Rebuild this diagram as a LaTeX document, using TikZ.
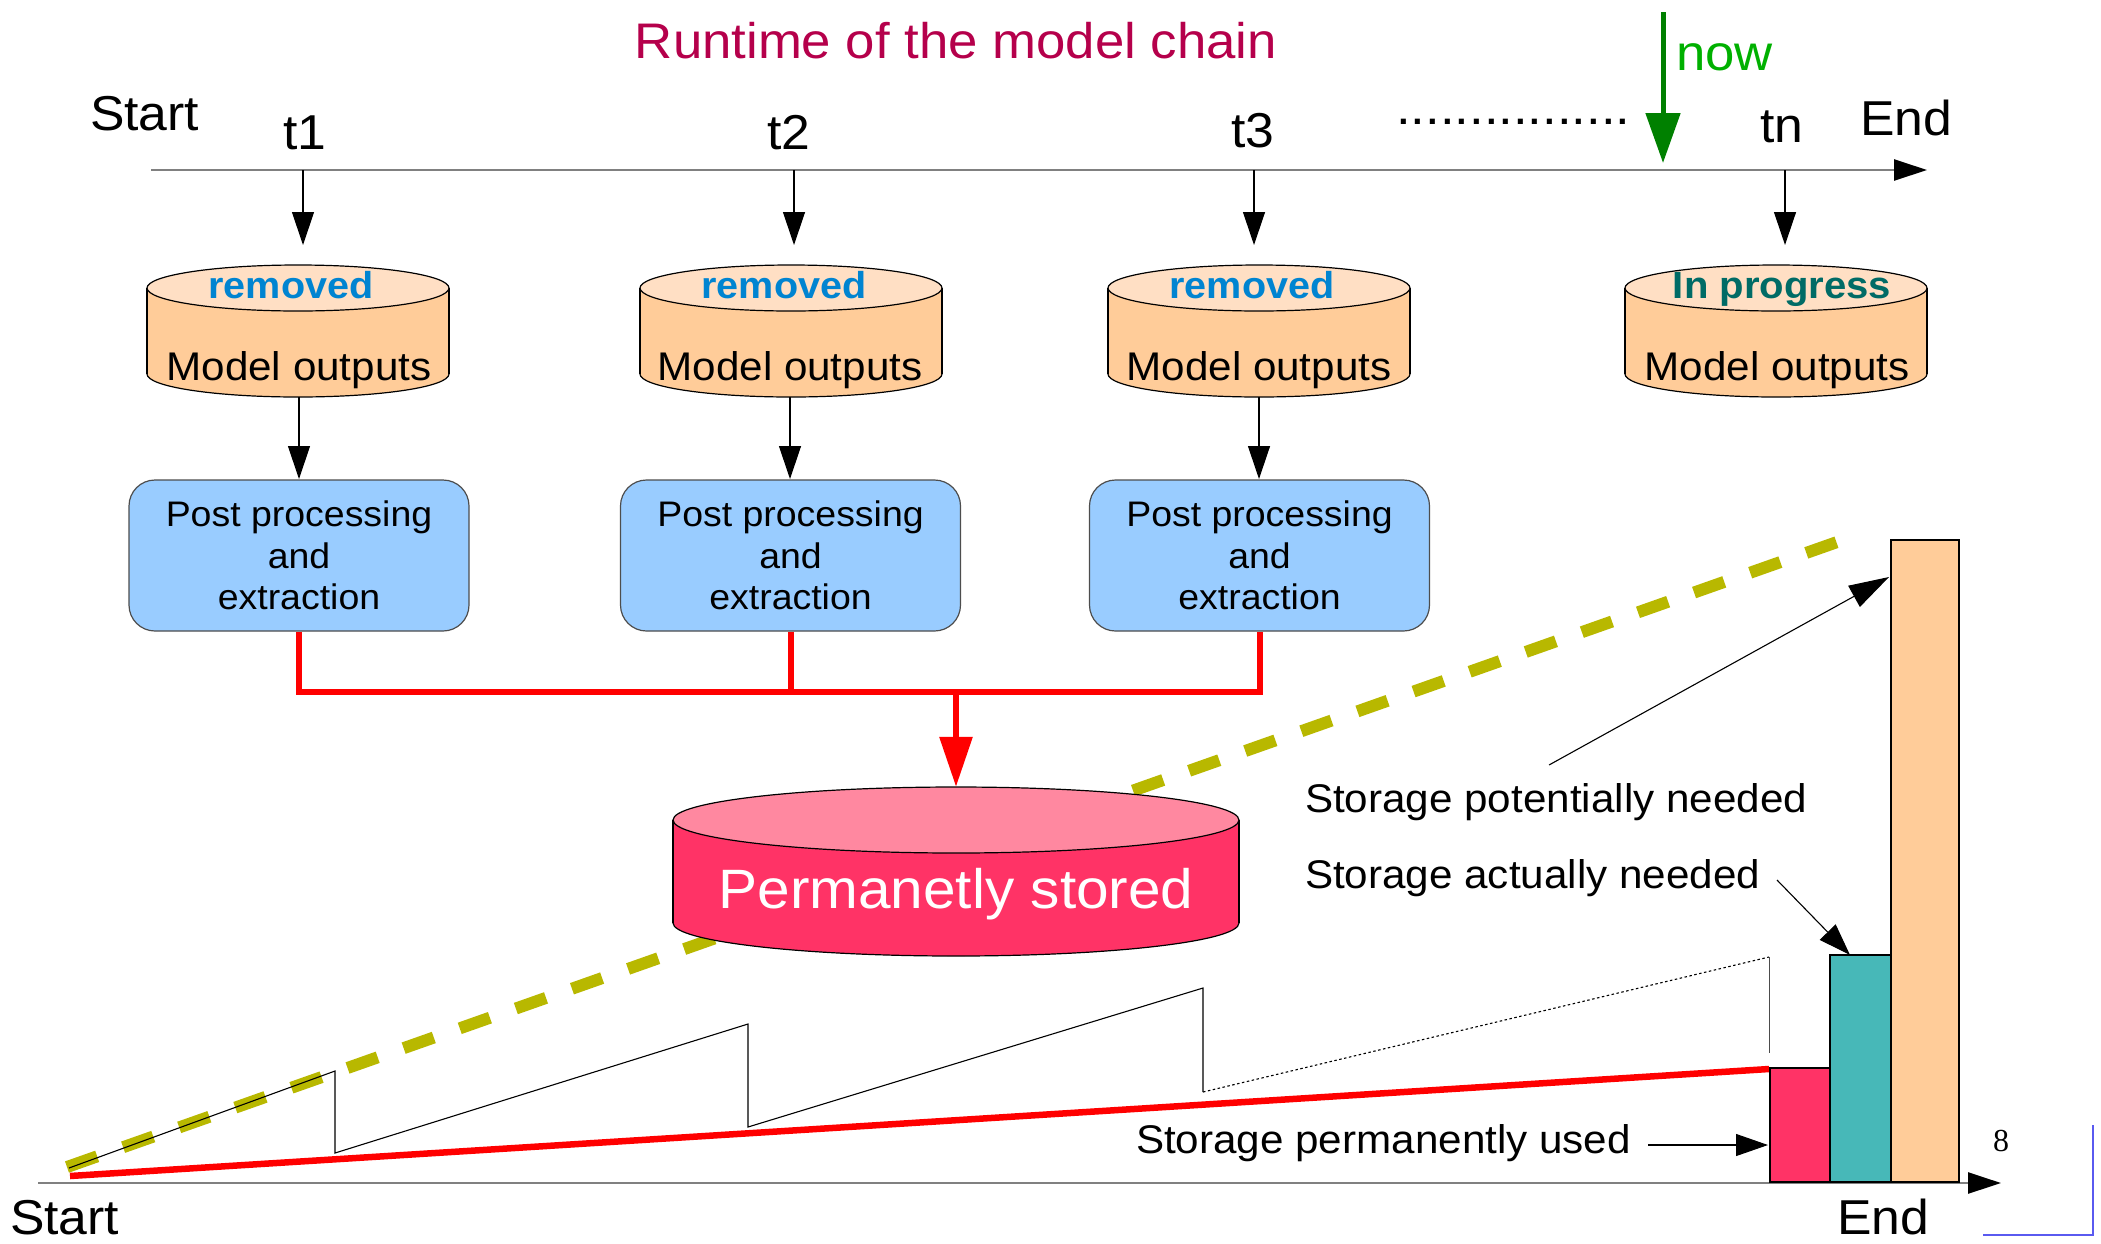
\documentclass[tikz,border=0pt]{standalone}
\usepackage{fontspec}
\setmainfont{Liberation Sans}[FakeStretch=1.055]
\newfontfamily\serifnum{Liberation Serif}
\usetikzlibrary{arrows.meta}
\definecolor{titlecol}{HTML}{B5004B}
\definecolor{nowtext}{HTML}{00B000}
\definecolor{nowarrow}{HTML}{008000}
\definecolor{removedcol}{HTML}{0084D1}
\definecolor{progcol}{HTML}{006B66}
\definecolor{cyltop}{HTML}{FFDFC4}
\definecolor{cylside}{HTML}{FFCC99}
\definecolor{boxfill}{HTML}{99CCFF}
\definecolor{boxline}{HTML}{4D4D4D}
\definecolor{permtop}{HTML}{FF88A0}
\definecolor{permside}{HTML}{FF3366}
\definecolor{tealbar}{HTML}{47B8B8}
\definecolor{olive}{HTML}{B8B800}
\definecolor{axisgray}{HTML}{808080}
\definecolor{cornerblue}{HTML}{5A5AF0}
\newcommand\myfs[1]{\fontsize{#1}{#1}\selectfont}
\newcommand\drawcyl[7]{%
  \filldraw[fill=#6,draw=black,line width=1.2pt] (#1,#3) ellipse [x radius=#4pt, y radius=#5pt];
  \fill[#6] (#1-#4,#2) rectangle (#1+#4,#3);
  \draw[line width=1.2pt] (#1-#4,#2) -- (#1-#4,#3) (#1+#4,#2) -- (#1+#4,#3);
  \filldraw[fill=#7,draw=black,line width=1.2pt] (#1,#2) ellipse [x radius=#4pt, y radius=#5pt];
}
\tikzset{
  txt/.style={inner sep=0pt, outer sep=0pt},
  tickarrow/.style={line width=1.2pt, black, -{Triangle[length=33pt,width=22pt]}},
  axisline/.style={line width=2.5pt, axisgray, -{Triangle[length=33pt,width=21pt,color=black]}},
  redline/.style={line width=6pt, red},
  ppbox/.style={draw=boxline, line width=1.2pt, fill=boxfill, rounded corners=26pt,
    minimum width=340pt, minimum height=151pt, inner sep=0pt, align=center,
    font={\fontsize{35.5}{41.5}\selectfont}},
  cylnode/.style={inner sep=0pt, minimum width=302pt, minimum height=132pt},
  bar/.style={draw=black, line width=1.6pt, inner sep=0pt, anchor=south west},
  labarrow/.style={line width=1.1pt, black, -{Triangle[length=32pt,width=22pt]}},
}
\begin{document}
\begin{tikzpicture}[x=1pt,y=-1pt]
\useasboundingbox (0,0) rectangle (2101,1243);

% ---------- title and top timeline ----------
\node[txt, anchor=base, text=titlecol, font=\myfs{50}] (title) at (956,58) {Runtime of the model chain};
\node[txt, anchor=base west, font=\myfs{49}] (startT) at (90,130) {Start};
\node[txt, anchor=base, font=\myfs{49}] (t1) at (305,149) {t1};
\node[txt, anchor=base, font=\myfs{49}] (t2) at (789,149) {t2};
\node[txt, anchor=base, font=\myfs{49}] (t3) at (1253,147) {t3};
\node[txt, anchor=base west, font=\myfs{50}] (dots) at (1396,124) {................};
\node[txt, anchor=base, font=\myfs{49}] (tn) at (1782,142) {tn};
\node[txt, anchor=base west, font=\myfs{49}] (endT) at (1860,135) {End};
\node[txt, anchor=base west, text=nowtext, font=\myfs{50}] (nowlab) at (1676,70) {now};

\coordinate (tlS) at (151,170);
\coordinate (tlE) at (1927,170);
\draw[axisline] (tlS) -- (tlE);

\coordinate (nowS) at (1663,12);
\coordinate (nowE) at (1663,163);
\draw[line width=5pt, nowarrow, -{Triangle[length=50pt,width=34pt]}] (nowS) -- (nowE);

\coordinate (k1) at (303,170);  \coordinate (k1e) at (303,245);
\coordinate (k2) at (794,170);  \coordinate (k2e) at (794,245);
\coordinate (k3) at (1254,170); \coordinate (k3e) at (1254,245);
\coordinate (k4) at (1785,170); \coordinate (k4e) at (1785,245);
\draw[tickarrow] (k1) -- (k1e);
\draw[tickarrow] (k2) -- (k2e);
\draw[tickarrow] (k3) -- (k3e);
\draw[tickarrow] (k4) -- (k4e);

% ---------- model output cylinders ----------
\drawcyl{298}{288}{374}{151}{23}{cylside}{cyltop}
\drawcyl{791}{288}{374}{151}{23}{cylside}{cyltop}
\drawcyl{1259}{288}{374}{151}{23}{cylside}{cyltop}
\drawcyl{1776}{288}{374}{151}{23}{cylside}{cyltop}
\node[cylnode] (mo1) at (298,331) {};
\node[cylnode] (mo2) at (791,331) {};
\node[cylnode] (mo3) at (1259,331) {};
\node[cylnode] (mo4) at (1776,331) {};
\node[txt, anchor=base, text=removedcol, font=\myfs{37.5}\bfseries] (rm1) at (291,298) {removed};
\node[txt, anchor=base, text=removedcol, font=\myfs{37.5}\bfseries] (rm2) at (784,298) {removed};
\node[txt, anchor=base, text=removedcol, font=\myfs{37.5}\bfseries] (rm3) at (1252,298) {removed};
\node[txt, anchor=base, text=progcol, font=\myfs{38}\bfseries] (prog) at (1782,298) {In progress};
\node[txt, anchor=base, font=\myfs{40}] (mt1) at (299,380) {Model outputs};
\node[txt, anchor=base, font=\myfs{40}] (mt2) at (790,380) {Model outputs};
\node[txt, anchor=base, font=\myfs{40}] (mt3) at (1259,380) {Model outputs};
\node[txt, anchor=base, font=\myfs{40}] (mt4) at (1777,380) {Model outputs};

% ---------- post processing boxes ----------
\node[ppbox] (pp1) at (299,555.5) {Post processing\\and\\extraction};
\node[ppbox] (pp2) at (790.5,555.5) {Post processing\\and\\extraction};
\node[ppbox] (pp3) at (1259.5,555.5) {Post processing\\and\\extraction};
\coordinate (c1) at (299,397);  \coordinate (c1e) at (299,479);
\coordinate (c2) at (790,397);  \coordinate (c2e) at (790,479);
\coordinate (c3) at (1259,397); \coordinate (c3e) at (1259,479);
\draw[tickarrow] (c1) -- (c1e);
\draw[tickarrow] (c2) -- (c2e);
\draw[tickarrow] (c3) -- (c3e);

% ---------- storage chart (background lines) ----------
\coordinate (dS) at (67,1167);
\coordinate (dE) at (1840,541);
\draw[olive, line width=12pt, dash pattern=on 32pt off 27.5pt] (dS) -- (dE);

\coordinate (s0) at (69,1168);
\coordinate (s1) at (335,1071);
\coordinate (s1b) at (335,1153);
\coordinate (s2) at (748,1024);
\coordinate (s2b) at (748,1127);
\coordinate (s3) at (1203,988);
\coordinate (s3b) at (1203,1092);
\coordinate (s4) at (1769,957);
\coordinate (s4b) at (1769,1053);
\draw[line width=1.1pt] (s0) -- (s1) -- (s1b) -- (s2) -- (s2b) -- (s3) -- (s3b);
\draw[line width=1.1pt, dash pattern=on 2.5pt off 2.5pt] (s3b) -- (s4);
\draw[line width=1pt, black!70] (s4) -- (s4b);

\coordinate (rS) at (70,1176);
\coordinate (rE) at (1769,1069);
\draw[red, line width=6.5pt] (rS) -- (rE);

% ---------- permanently stored cylinder ----------
\drawcyl{956}{820}{923}{283}{33}{permside}{permtop}
\node[inner sep=0pt, minimum width=566pt, minimum height=169pt] (ps) at (956,871.5) {};
\node[txt, anchor=base, text=white, font=\myfs{55.5}] (pstext) at (956,908) {Permanetly stored};

% ---------- red collection lines ----------
\coordinate (bus) at (956,692);
\draw[redline, line join=miter] (pp1.south) -- (pp1.south |- bus) -- (pp3.south |- bus) -- (pp3.south);
\draw[redline] (pp2.south) -- (pp2.south |- bus);
\draw[redline, -{Triangle[length=50pt,width=32pt]}] (bus) -- (ps.north);

% ---------- bottom axis and bars ----------
\coordinate (axS) at (38,1183);
\coordinate (axE) at (2001,1183);
\draw[axisline] (axS) -- (axE);
\node[bar, fill=permside, minimum width=60pt, minimum height=114pt] (bar1) at (1769,1183) {};
\node[bar, fill=tealbar, minimum width=61pt, minimum height=227pt] (bar2) at (1829,1183) {};
\node[bar, fill=cylside, minimum width=68pt, minimum height=642pt] (bar3) at (1890,1183) {};

\node[txt, anchor=base west, font=\myfs{49}] (startB) at (10,1234) {Start};
\node[txt, anchor=base west, font=\myfs{49}] (endB) at (1837,1234) {End};
\node[txt, anchor=base, font={\serifnum\fontsize{32}{32}\selectfont}] (eight) at (2001,1151) {8};

% ---------- labels ----------
\node[txt, anchor=base west, font=\myfs{40}] (lpot) at (1305,812) {Storage potentially needed};
\node[txt, anchor=base west, font=\myfs{40}] (lact) at (1305,888) {Storage actually needed};
\node[txt, anchor=base west, font=\myfs{40}] (lperm) at (1136,1153) {Storage permanently used};
\coordinate (apS) at (1549,765);  \coordinate (apE) at (1889,577);
\coordinate (aaS) at (1777,880);  \coordinate (aaE) at (1850,955);
\coordinate (auS) at (1648,1145); \coordinate (auE) at (1768,1145);
\draw[line width=1.1pt, -{Triangle[length=40pt,width=24pt]}] (apS) -- (apE);
\draw[labarrow] (aaS) -- (aaE);
\draw[labarrow] (auS) -- (auE);

% ---------- corner mark ----------
\coordinate (bl1) at (1983,1235);
\coordinate (bl2) at (2093,1235);
\coordinate (bl3) at (2093,1125);
\draw[cornerblue, line width=1.5pt] (bl1) -- (bl2) -- (bl3);
\end{tikzpicture}
\end{document}
